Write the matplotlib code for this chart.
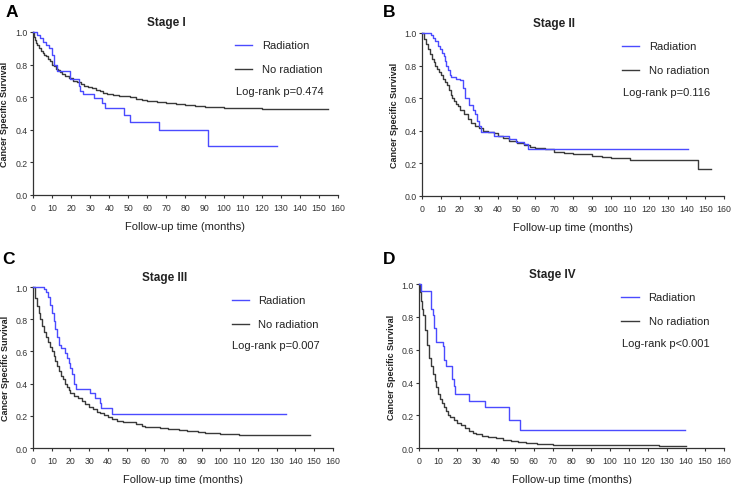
import matplotlib
matplotlib.use("Agg")
import matplotlib.pyplot as plt

plt.rcParams['font.family'] = ['Liberation Sans', 'DejaVu Sans']

# Kaplan-Meier curves (time in months, survival)
a_rad_t = [0, 2, 3.5, 5, 7, 8.5, 9.8, 11, 12.6, 19.5, 24, 24.6, 26, 32, 36, 38, 47.7, 51, 66, 92, 128]
a_rad_s = [1.0, 0.98, 0.96, 0.94, 0.92, 0.90, 0.86, 0.80, 0.76, 0.71, 0.67, 0.64, 0.62, 0.595, 0.565, 0.535, 0.49, 0.45, 0.40, 0.30, 0.30]
a_no_t = [0, 0.5, 1, 1.5, 2, 3, 4, 5, 6, 7, 8, 9, 10, 11, 12, 13, 14, 15, 17, 19, 21, 23, 25, 27, 29, 31, 33, 35, 37, 39,
          42, 45, 48, 51, 54, 57, 60, 65, 70, 75, 80, 85, 90, 95, 100, 110, 120, 155]
a_no_s = [1.0, 0.97, 0.95, 0.93, 0.92, 0.90, 0.885, 0.87, 0.86, 0.85, 0.835, 0.82, 0.80, 0.79, 0.775, 0.765, 0.755, 0.745,
          0.73, 0.715, 0.70, 0.69, 0.68, 0.67, 0.66, 0.655, 0.645, 0.635, 0.625, 0.62, 0.615, 0.61, 0.605, 0.60, 0.59, 0.58,
          0.575, 0.57, 0.565, 0.56, 0.55, 0.545, 0.54, 0.537, 0.535, 0.533, 0.53, 0.53]

b_rad_t = [0, 4.8, 5.7, 6.9, 8.3, 9.5, 10.6, 11.5, 12.2, 12.7, 13.6, 14.5, 15.4, 18, 19.8, 21.6, 22.8, 25, 27, 28,
           29, 30, 31, 38, 46, 49.5, 54, 56, 141]
b_rad_s = [1.0, 0.99, 0.97, 0.95, 0.92, 0.90, 0.88, 0.86, 0.83, 0.80, 0.77, 0.74, 0.73, 0.72, 0.71, 0.66, 0.60, 0.56,
           0.53, 0.50, 0.46, 0.43, 0.39, 0.37, 0.35, 0.33, 0.32, 0.29, 0.29]
b_no_t = [0, 1, 2, 3, 4, 5, 6, 7, 8, 9, 10, 11, 12, 13, 14, 15, 16, 17, 18, 19, 20, 22, 24, 26, 28, 30, 32, 35, 38, 40,
          43, 46, 50, 54, 57, 60, 65, 70, 75, 80, 90, 95, 100, 103, 110, 146, 153]
b_no_s = [1.0, 0.96, 0.93, 0.90, 0.87, 0.84, 0.82, 0.80, 0.78, 0.76, 0.745, 0.72, 0.70, 0.68, 0.65, 0.62, 0.60, 0.58,
          0.565, 0.55, 0.53, 0.50, 0.47, 0.45, 0.43, 0.415, 0.40, 0.395, 0.385, 0.365, 0.355, 0.34, 0.325, 0.315, 0.30,
          0.295, 0.285, 0.27, 0.265, 0.255, 0.245, 0.24, 0.235, 0.23, 0.22, 0.165, 0.165]

c_rad_t = [0, 6, 7, 8, 9, 10, 11, 12, 13, 14, 15, 17, 18, 19, 20, 21, 22, 23, 30.6, 33, 35.6, 36.4, 42, 135]
c_rad_s = [1.0, 0.99, 0.97, 0.94, 0.89, 0.84, 0.79, 0.74, 0.69, 0.64, 0.62, 0.59, 0.56, 0.53, 0.50, 0.46, 0.40, 0.37,
           0.34, 0.31, 0.28, 0.25, 0.21, 0.21]
c_no_t = [0, 1, 2, 3, 4, 5, 6, 7, 8, 9, 10, 11, 12, 13, 14, 15, 16, 17, 18, 19, 20, 22, 24, 26, 28, 30, 32, 34, 36, 38,
          40, 42, 45, 48, 52, 55, 58, 60, 68, 72, 78, 82, 88, 92, 100, 104, 110, 148]
c_no_s = [1.0, 0.93, 0.88, 0.84, 0.80, 0.76, 0.72, 0.69, 0.66, 0.63, 0.60, 0.57, 0.54, 0.51, 0.48, 0.45, 0.43, 0.40,
          0.38, 0.36, 0.345, 0.325, 0.31, 0.295, 0.275, 0.255, 0.24, 0.225, 0.215, 0.205, 0.195, 0.18, 0.17, 0.165,
          0.16, 0.15, 0.135, 0.13, 0.125, 0.12, 0.115, 0.105, 0.10, 0.095, 0.09, 0.088, 0.08, 0.08]

d_rad_t = [0, 1, 6.1, 7, 7.9, 9, 12.3, 13, 14, 17, 18, 19, 26, 34.7, 47, 53, 139.3]
d_rad_s = [1.0, 0.96, 0.85, 0.81, 0.73, 0.65, 0.62, 0.54, 0.50, 0.42, 0.38, 0.33, 0.29, 0.25, 0.17, 0.11, 0.11]
d_no_t = [0, 0.5, 1, 1.5, 2, 3, 4, 5, 6, 7, 8, 9, 10, 11, 12, 13, 14, 15, 16, 18, 20, 22, 24, 26, 28, 30,
          33, 36, 40, 44, 48, 52, 56, 62, 70, 80, 126, 140]
d_no_s = [1.0, 0.95, 0.90, 0.85, 0.81, 0.72, 0.63, 0.55, 0.50, 0.45, 0.41, 0.37, 0.33, 0.30, 0.275, 0.25, 0.225, 0.205,
          0.19, 0.17, 0.155, 0.14, 0.12, 0.105, 0.095, 0.085, 0.075, 0.068, 0.06, 0.05, 0.045, 0.035, 0.03, 0.027,
          0.022, 0.018, 0.012, 0.012]

letters = ["A", "B", "C", "D"]
titles = ["Stage I", "Stage II", "Stage III", "Stage IV"]
pvals = ["Log-rank p=0.474", "Log-rank p=0.116", "Log-rank p=0.007", "Log-rank p<0.001"]
x_ticks = list(range(0, 161, 10))
y_ticks = [0.0, 0.2, 0.4, 0.6, 0.8, 1.0]

BLUE = "#4b4bff"
DARK = "#3a3a3a"
AX = "#333333"

fig = plt.figure(figsize=(7.33, 4.85), dpi=100)
boxes = [[0.045, 0.596, 0.416, 0.336],
         [0.576, 0.594, 0.412, 0.336],
         [0.045, 0.074, 0.409, 0.332],
         [0.572, 0.074, 0.416, 0.338]]
letter_pos = [(0.008, 0.975), (0.523, 0.975), (0.003, 0.465), (0.523, 0.465)]

series = [(a_rad_t, a_rad_s, a_no_t, a_no_s),
          (b_rad_t, b_rad_s, b_no_t, b_no_s),
          (c_rad_t, c_rad_s, c_no_t, c_no_s),
          (d_rad_t, d_rad_s, d_no_t, d_no_s)]

for i in range(4):
    ax = fig.add_axes(boxes[i])
    rt, rs, nt, ns = series[i]
    ax.step(nt, ns, where='post', color=DARK, lw=1.0, clip_on=False, zorder=3)
    ax.step(rt, rs, where='post', color=BLUE, lw=1.0, clip_on=False, zorder=4)

    ax.set_xlim(0, 160)
    ax.set_ylim(0, 1.0)
    ax.set_xticks(x_ticks)
    ax.set_yticks(y_ticks)
    ax.set_yticklabels([f"{v:.1f}" for v in y_ticks])
    for s in ["top", "right"]:
        ax.spines[s].set_visible(False)
    for s in ["left", "bottom"]:
        ax.spines[s].set_color(AX)
        ax.spines[s].set_linewidth(0.9)
    ax.tick_params(axis='x', direction='out', length=2.5, width=0.8, color=AX, labelsize=6.3, labelcolor=AX, pad=3.5)
    ax.tick_params(axis='y', direction='out', length=2.5, width=0.8, color=AX, labelsize=6.3, labelcolor=AX, pad=1.5)

    ax.set_xlabel("Follow-up time (months)", fontsize=8, color="#222222", labelpad=6)
    ax.text(-0.092, 0.5, "Cancer Specific Survival", transform=ax.transAxes, rotation=90,
            ha='center', va='center', fontsize=6.5, fontweight='bold', color="#222222")
    ax.text(70, 1.06, titles[i], ha='center', va='center', fontsize=8.5, fontweight='bold', color="#222222")

    # legend drawn by hand to sit where the original does
    ax.plot([0.663, 0.719], [0.92, 0.92], transform=ax.transAxes, color=BLUE, lw=1.0)
    ax.plot([0.663, 0.719], [0.773, 0.773], transform=ax.transAxes, color=DARK, lw=1.0)
    ax.text(0.752, 0.92, "Radiation", transform=ax.transAxes, va='center', fontsize=8, color="#222222")
    ax.text(0.752, 0.773, "No radiation", transform=ax.transAxes, va='center', fontsize=8, color="#222222")
    ax.text(0.665, 0.64, pvals[i], transform=ax.transAxes, va='center', fontsize=8, color="#222222")

    fig.text(letter_pos[i][0], letter_pos[i][1], letters[i], fontsize=12.5, fontweight='bold', va='center')

fig.savefig("out.png", dpi=100)
